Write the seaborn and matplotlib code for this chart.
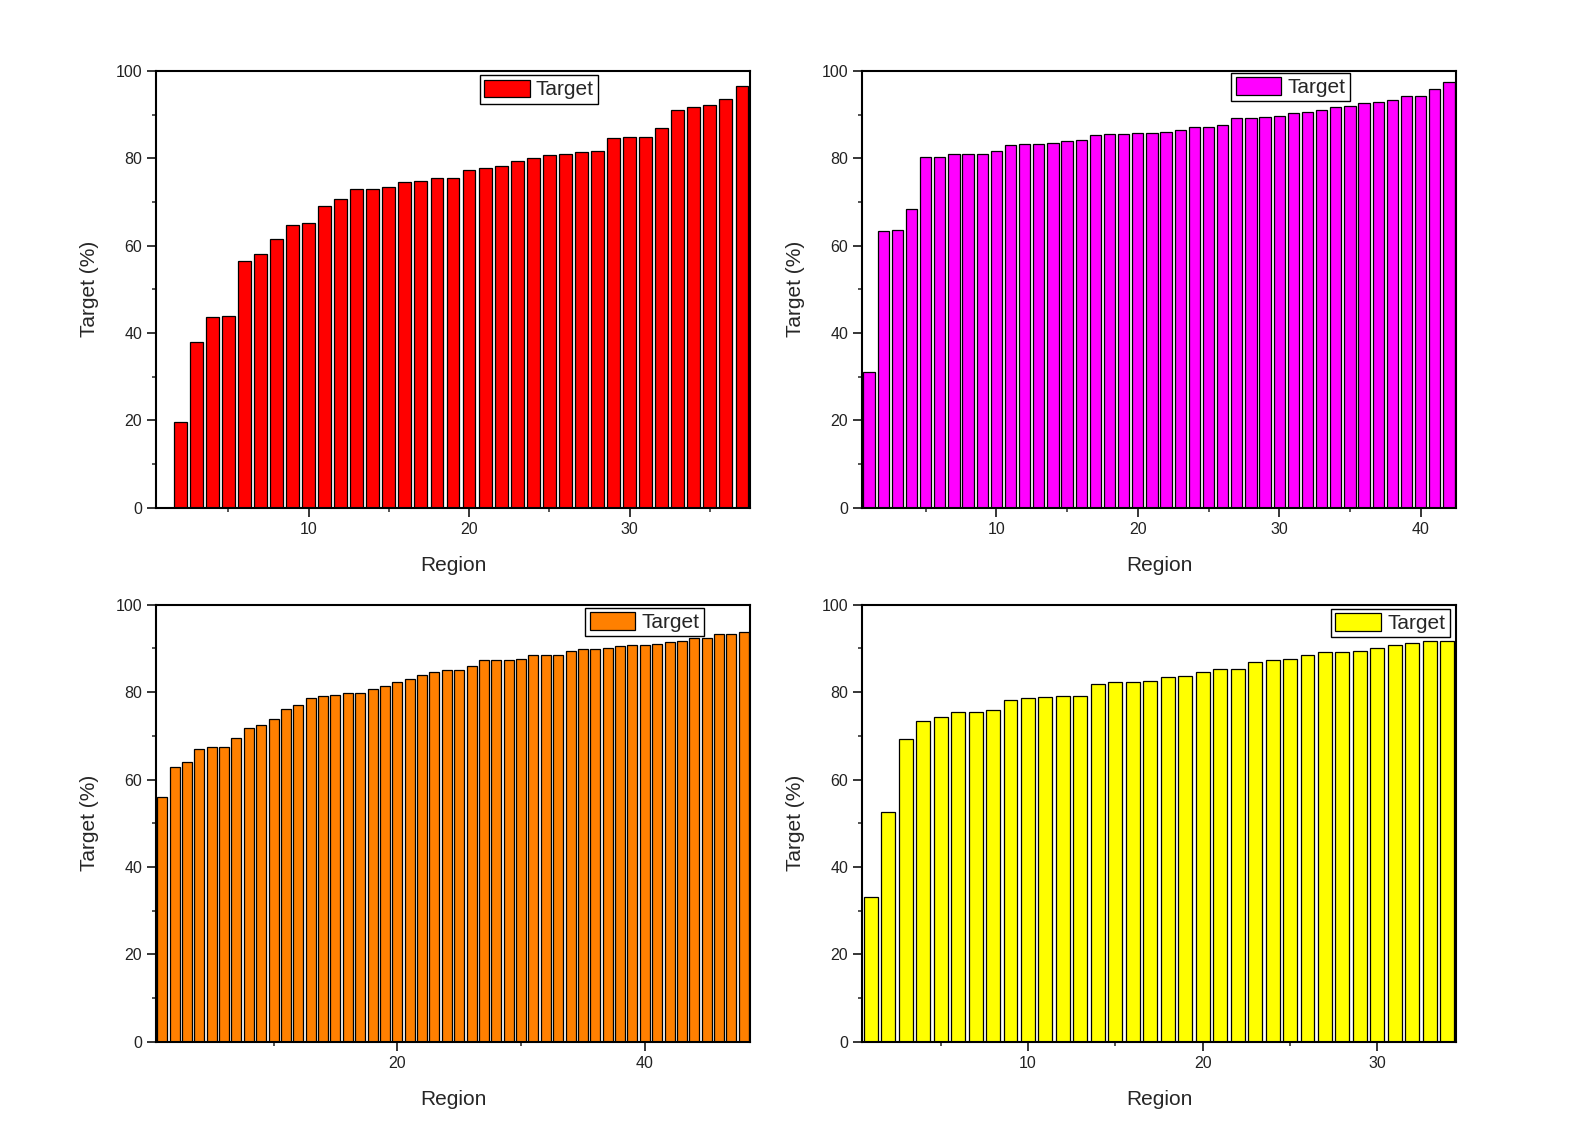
import matplotlib
matplotlib.use("Agg")
import matplotlib.pyplot as plt
from matplotlib.ticker import MultipleLocator
import seaborn as sns

# values (Region -> Target %)
red_regions = list(range(2, 38))
red_values = [19.6, 37.9, 43.6, 44.0, 56.4, 58.0, 61.5, 64.7, 65.3, 69.0,
              70.8, 72.9, 72.9, 73.4, 74.5, 74.7, 75.4, 75.6, 77.3, 77.9,
              78.2, 79.3, 80.0, 80.7, 80.9, 81.4, 81.7, 84.6, 84.8, 85.0,
              86.9, 91.0, 91.7, 92.1, 93.5, 96.5]

magenta_regions = list(range(1, 43))
magenta_values = [31.0, 63.3, 63.5, 68.5, 80.2, 80.2, 80.9, 80.9, 81.1, 81.7,
                  83.1, 83.3, 83.3, 83.5, 84.0, 84.2, 85.3, 85.5, 85.5, 85.7,
                  85.7, 86.0, 86.6, 87.1, 87.1, 87.6, 89.2, 89.2, 89.4, 89.6,
                  90.3, 90.5, 91.0, 91.7, 91.9, 92.6, 92.8, 93.3, 94.2, 94.2,
                  95.8, 97.4]

orange_regions = list(range(1, 49))
orange_values = [55.9, 62.8, 63.9, 67.0, 67.4, 67.4, 69.6, 71.7, 72.4, 73.8,
                 76.1, 77.0, 78.6, 79.0, 79.3, 79.7, 79.9, 80.6, 81.5, 82.2,
                 83.1, 83.8, 84.5, 85.0, 85.0, 86.0, 87.3, 87.4, 87.4, 87.6,
                 88.4, 88.6, 88.6, 89.3, 89.8, 89.8, 90.2, 90.5, 90.7, 90.7,
                 90.9, 91.4, 91.8, 92.3, 92.3, 93.2, 93.2, 93.7]

yellow_regions = list(range(1, 35))
yellow_values = [33.0, 52.5, 69.2, 73.5, 74.2, 75.4, 75.4, 75.8, 78.1, 78.6,
                 78.8, 79.0, 79.0, 81.8, 82.2, 82.2, 82.5, 83.4, 83.6, 84.7,
                 85.2, 85.4, 86.8, 87.3, 87.5, 88.6, 89.1, 89.1, 89.3, 90.2,
                 90.7, 91.2, 91.6, 91.8]

sns.set_style("ticks")
plt.rcParams['font.family'] = ['Liberation Sans', 'DejaVu Sans']

W, H = 1578, 1144
fig = plt.figure(figsize=(W / 100, H / 100), dpi=100)

panels = [
    # regions, values, colour, axes box (left, top, right, bottom px), xlim, major, minor, legend anchor
    (red_regions, red_values, '#FF0000', (156, 71, 750, 507.7), (0.5, 37.5), 10, 5, (0.545, 0.99)),
    (magenta_regions, magenta_values, '#FF00FF', (862, 71, 1456, 507.7), (0.5, 42.5), 10, 5, (0.622, 0.995)),
    (orange_regions, orange_values, '#FF8000', (156, 604.7, 750, 1041.7), (0.5, 48.5), 20, 10, (0.723, 0.992)),
    (yellow_regions, yellow_values, '#FFFF00', (862, 604.7, 1456, 1041.7), (0.5, 34.5), 10, 5, (0.79, 0.99)),
]

for regions, values, color, box, xlim, major, minor, anchor in panels:
    l, t, r, b = box
    ax = fig.add_axes([l / W, 1 - b / H, (r - l) / W, (b - t) / H])
    sns.barplot(x=regions, y=values, native_scale=True, color=color,
                saturation=1, width=0.8, edgecolor='black', linewidth=0.9,
                label='Target', ax=ax)
    ax.set_xlim(*xlim)
    ax.set_ylim(0, 100)
    ax.xaxis.set_major_locator(MultipleLocator(major))
    ax.xaxis.set_minor_locator(MultipleLocator(minor))
    ax.yaxis.set_major_locator(MultipleLocator(20))
    ax.yaxis.set_minor_locator(MultipleLocator(10))
    ax.tick_params(which='major', length=6.5, width=1.1, labelsize=11.5, colors='black', labelcolor='#222222')
    ax.tick_params(which='minor', length=3, width=1.1)
    for s in ax.spines.values():
        s.set_visible(True)
        s.set_linewidth(1.5)
        s.set_color('black')
    ax.set_xlabel('Region', fontsize=15, labelpad=14)
    ax.set_ylabel('Target (%)', fontsize=15, labelpad=12)
    leg = ax.legend(loc='upper left', bbox_to_anchor=anchor, borderaxespad=0,
                    fancybox=False, framealpha=1, edgecolor='black',
                    fontsize=15, handlelength=2.2, handleheight=0.9,
                    handletextpad=0.3, borderpad=0.2)
    leg.get_frame().set_linewidth(1.0)

fig.savefig('out.png', dpi=100)
